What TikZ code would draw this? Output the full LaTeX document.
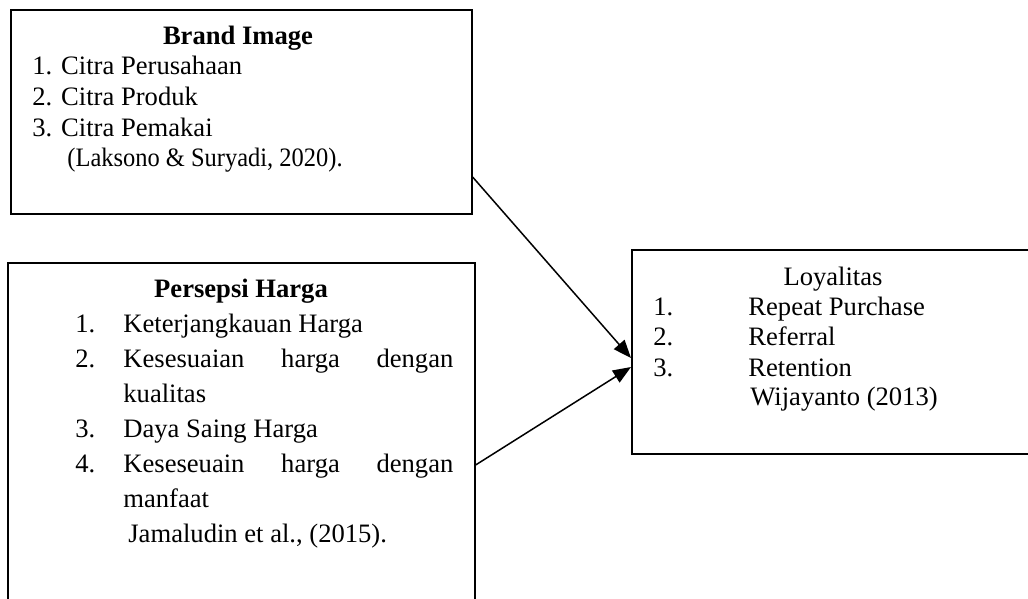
\documentclass[tikz,border=0pt]{standalone}
\usepackage{fontspec}
\setmainfont{Liberation Serif}
\usetikzlibrary{arrows.meta}

\begin{document}
\begin{tikzpicture}[x=0.5pt,y=-0.5pt]
		\tikzset{font=\fontsize{13.3}{15}\selectfont}
		
		\tikzset{box/.style = {shape=rectangle,draw,line width=0.8pt,anchor=north west,inner sep=0pt}}
		
		\tikzset{txt/.style = {anchor=base west,inner sep=0pt}}
		
		\tikzset{ttl/.style = {anchor=base,inner sep=0pt}}
		
		\tikzset{edge/.style = {line width=0.75pt,-{Triangle[length=9pt,width=7pt]}}}
		
		\useasboundingbox (0,0) rectangle (1028,599);
		
		% boxes
		
		\node[box,minimum width=230.5pt,minimum height=102pt] (brand) at (10,9) {};
		
		\node[box,minimum width=233.5pt,minimum height=209pt] (harga) at (7,262) {};
		
		\node[box,minimum width=204.5pt,minimum height=102pt] (loyal) at (631,249) {};
		
		% texts
		
		\node[ttl] (bt) at (238,45) {\bfseries Brand Image};
		\node[txt] (b1) at (32,75) {1. Citra Perusahaan};
		\node[txt] (b2) at (32,106) {2. Citra Produk};
		\node[txt] (b3) at (32,137) {3. Citra Pemakai};
		\node[txt] (bs) at (67,167) {\scalebox{0.92}[1]{(Laksono \& Suryadi, 2020).}};
		
		\node[ttl] (ht) at (241,297) {\bfseries Persepsi Harga};
		\node[txt] (hn1) at (75,332) {1.};
		\node[txt] (h1) at (123,332) {Keterjangkauan Harga};
		\node[txt] (hn2) at (75,367) {2.};
		\node[txt] (h2) at (123,367) {\makebox[165pt][s]{Kesesuaian harga dengan}};
		\node[txt] (h2b) at (123,402) {kualitas};
		\node[txt] (hn3) at (75,437) {3.};
		\node[txt] (h3) at (123,437) {Daya Saing Harga};
		\node[txt] (hn4) at (75,472) {4.};
		\node[txt] (h4) at (123,472) {\makebox[165pt][s]{Keseseuain harga dengan}};
		\node[txt] (h4b) at (123,507) {manfaat};
		\node[txt] (hs) at (128,542) {Jamaludin et al., (2015).};
		
		\node[ttl] (lt) at (833,285) {Loyalitas};
		\node[txt] (ln1) at (653,315) {1.};
		\node[txt] (l1) at (748,315) {Repeat Purchase};
		\node[txt] (ln2) at (653,345) {2.};
		\node[txt] (l2) at (748,345) {Referral};
		\node[txt] (ln3) at (653,376) {3.};
		\node[txt] (l3) at (748,376) {Retention};
		\node[txt] (ls) at (750,405) {Wijayanto (2013)};
		
		%edges
		
		\draw[edge] (brand.east |- 0,177) -- (loyal.west |- 0,358);
		\draw[edge] (harga.east |- 0,465) -- (loyal.west |- 0,367);
\end{tikzpicture}
\end{document}
